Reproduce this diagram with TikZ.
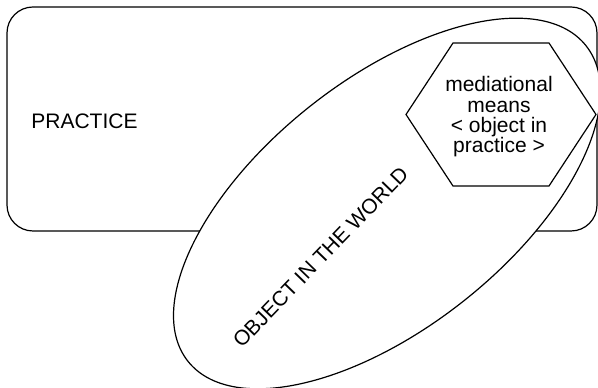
\documentclass[tikz,border=0pt]{standalone}
\usepackage{fontspec}
\setmainfont{Liberation Sans}
\begin{document}
\begin{tikzpicture}[x=1pt,y=1pt,
  outline/.style={draw=black, line width=1.2pt},
  label/.style={font=\fontsize{21}{20.3}\selectfont, inner sep=0pt}]
\useasboundingbox (0,0) rectangle (598,388);
% practice frame
\node[outline, rounded corners=26pt, minimum width=590pt, minimum height=224pt,
      inner sep=0pt] (practice) at (302,269) {};
\node[label] (practicelabel) at (84.5,267) {PRACTICE};
% object in the world
\coordinate (worldc) at (387,184.5);
\draw[outline, fill=white, rotate around={38.4:(worldc)}]
  (worldc) ellipse [x radius=254, y radius=124];
\node[label, rotate=46] (worldlabel) at (320.5,131) {OBJECT IN THE WORLD};
% mediational means
\coordinate (h1) at (453,345);
\coordinate (h2) at (549,345);
\coordinate (h3) at (596,273.5);
\coordinate (h4) at (549,202);
\coordinate (h5) at (453,202);
\coordinate (h6) at (406,273.5);
\draw[outline, fill=white] (h1) -- (h2) -- (h3) -- (h4) -- (h5) -- (h6) -- cycle;
\node[label, align=center] (means) at (499,271)
  {mediational\\means\\\textless{} object in\\practice \textgreater};
\end{tikzpicture}
\end{document}
